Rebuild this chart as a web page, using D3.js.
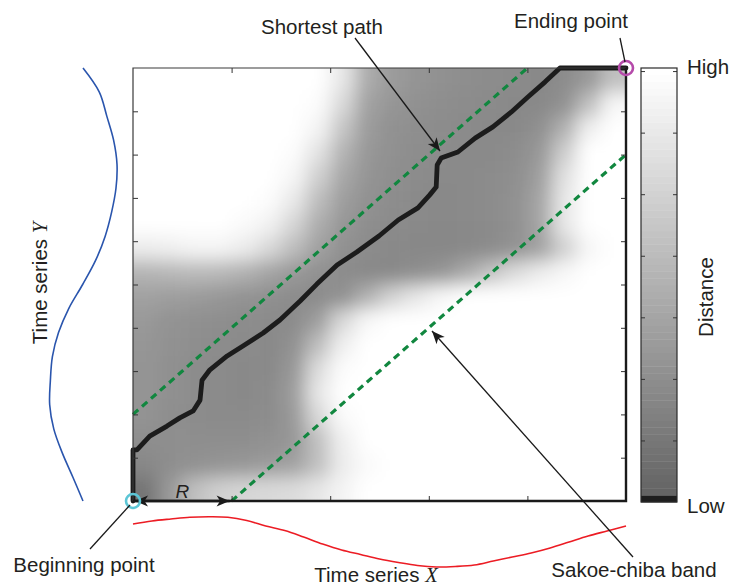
<!DOCTYPE html>
<html>
<head>
<meta charset="utf-8">
<script src="https://cdn.jsdelivr.net/npm/d3@7"></script>
<style>
  html, body { margin: 0; padding: 0; background: #fff; }
  svg { display: block; font-family: 'Liberation Sans', Arial, sans-serif; }
</style>
</head>
<body>
<script>
// ---- data ----

// time series X (red, under the matrix), normalised amplitude, evenly spaced in time
const seriesX = [0.68, 0.8, 0.88, 0.95, 0.97, 0.95, 0.82, 0.6, 0.42, 0.16, -0.12, -0.36, -0.54,
  -0.72, -0.86, -0.98, -1.04, -1.02, -0.96, -0.8, -0.64, -0.48, -0.28, -0.04, 0.2, 0.4, 0.6];

// time series Y (blue, left of the matrix), time runs bottom -> top
const seriesY = [0, 0.3, 0.61, 0.86, 0.98, 0.96, 0.9, 0.72, 0.42, 0.01, -0.37, -0.65, -0.84,
  -0.97, -1.0, -0.9, -0.7, -0.48, 0];

// local distance matrix, 0 = low, 1 = high; rows from top (end of Y) to bottom (start of Y)
const distanceGrid = [
  [1, 1, 1, 1, 1, 1, 1, 1, 0.85, 0.47, 0.36, 0.32, 0.3, 0.28, 0.27, 0.26, 0.25, 0.27, 0.35, 0.6],
  [1, 1, 1, 1, 1, 1, 1, 0.98, 0.76, 0.41, 0.33, 0.3, 0.28, 0.27, 0.26, 0.25, 0.25, 0.3, 0.6, 0.95],
  [1, 1, 1, 1, 1, 1, 1, 0.93, 0.64, 0.37, 0.3, 0.28, 0.27, 0.26, 0.25, 0.25, 0.29, 0.5, 0.9, 1],
  [1, 1, 1, 1, 1, 1, 0.98, 0.82, 0.52, 0.34, 0.29, 0.27, 0.26, 0.25, 0.25, 0.27, 0.34, 0.68, 1, 1],
  [1, 1, 1, 1, 1, 1, 0.94, 0.7, 0.44, 0.32, 0.28, 0.26, 0.25, 0.25, 0.26, 0.28, 0.38, 0.8, 1, 1],
  [1, 1, 1, 1, 1, 0.98, 0.86, 0.58, 0.38, 0.3, 0.27, 0.25, 0.24, 0.25, 0.26, 0.29, 0.42, 0.85, 1, 1],
  [1, 1, 1, 1, 0.97, 0.92, 0.74, 0.48, 0.34, 0.28, 0.26, 0.25, 0.24, 0.25, 0.26, 0.29, 0.42, 0.85, 1, 1],
  [0.88, 0.9, 0.93, 0.93, 0.88, 0.76, 0.58, 0.4, 0.3, 0.27, 0.25, 0.24, 0.24, 0.25, 0.27, 0.31, 0.4, 0.7, 0.95, 1],
  [0.52, 0.54, 0.56, 0.55, 0.5, 0.42, 0.35, 0.3, 0.27, 0.25, 0.25, 0.28, 0.32, 0.45, 0.62, 0.78, 0.88, 0.95, 1, 1],
  [0.4, 0.38, 0.36, 0.34, 0.31, 0.29, 0.27, 0.26, 0.3, 0.5, 0.72, 0.85, 0.95, 1, 1, 1, 1, 1, 1, 1],
  [0.35, 0.31, 0.29, 0.28, 0.27, 0.26, 0.26, 0.38, 0.75, 0.95, 1, 1, 1, 1, 1, 1, 1, 1, 1, 1],
  [0.33, 0.3, 0.28, 0.27, 0.26, 0.25, 0.3, 0.58, 0.9, 1, 1, 1, 1, 1, 1, 1, 1, 1, 1, 1],
  [0.32, 0.29, 0.27, 0.26, 0.25, 0.25, 0.34, 0.78, 0.98, 1, 1, 1, 1, 1, 1, 1, 1, 1, 1, 1],
  [0.32, 0.29, 0.27, 0.26, 0.25, 0.26, 0.37, 0.85, 1, 1, 1, 1, 1, 1, 1, 1, 1, 1, 1, 1],
  [0.31, 0.28, 0.27, 0.26, 0.26, 0.27, 0.35, 0.75, 0.97, 1, 1, 1, 1, 1, 1, 1, 1, 1, 1, 1],
  [0.28, 0.28, 0.28, 0.28, 0.28, 0.3, 0.34, 0.6, 0.9, 1, 1, 1, 1, 1, 1, 1, 1, 1, 1, 1],
  [0.24, 0.28, 0.3, 0.32, 0.34, 0.36, 0.4, 0.6, 0.88, 0.97, 1, 1, 1, 1, 1, 1, 1, 1, 1, 1],
  [0.12, 0.35, 0.6, 0.7, 0.74, 0.76, 0.78, 0.84, 0.93, 1, 1, 1, 1, 1, 1, 1, 1, 1, 1, 1]
];

// warping path in percent of X index / Y index
const warpPath = [[0, 0], [0, 11.8], [0.8, 11.8], [3.4, 15.0], [6.9, 17.3], [9.5, 19.2], [12.2, 20.8],
  [13.6, 23.3], [14.0, 27.9], [15.6, 30.3], [19.1, 33.5], [22.3, 35.8], [26.4, 38.8], [29.8, 41.8],
  [33.9, 46.2], [37.3, 50.1], [41.4, 54.5], [45.4, 57.5], [49.9, 61.2], [53.8, 64.9], [57.8, 67.7],
  [60.2, 70.7], [61.5, 72.5], [61.7, 77.6], [62.5, 79.2], [65.9, 80.6], [69.4, 83.8], [73.0, 86.4],
  [76.7, 89.8], [80.1, 93.3], [83.6, 96.8], [86.6, 100], [100, 100]];

// Sakoe-Chiba window radius, percent of series length
const bandRadius = 20;

const xTicks = [20, 40, 60, 80];
const yTicks = [10, 20, 30, 40, 50, 60, 70, 80, 90];
const colorbarTicks = [1, 2, 3, 4, 5, 6, 7];
const colorbarSteps = 64;

// ---- layout ----
const W = 730, H = 586;
const plot = { left: 133, top: 68, right: 626, bottom: 501 };
const cbar = { left: 641, right: 677, top: 68, bottom: 502 };
const textColor = '#231f20';
const fontSize = 20.5;

const svg = d3.select('body').append('svg').attr('width', W).attr('height', H);
const defs = svg.append('defs');

defs.append('clipPath').attr('id', 'plotClip')
  .append('rect')
  .attr('x', plot.left).attr('y', plot.top)
  .attr('width', plot.right - plot.left).attr('height', plot.bottom - plot.top);

defs.append('filter').attr('id', 'soften')
  .attr('x', '-20%').attr('y', '-20%').attr('width', '140%').attr('height', '140%')
  .append('feGaussianBlur').attr('stdDeviation', 9);

defs.append('marker')
  .attr('id', 'head')
  .attr('viewBox', '-14 -7 16 14')
  .attr('refX', 0).attr('refY', 0)
  .attr('markerWidth', 16).attr('markerHeight', 14)
  .attr('markerUnits', 'userSpaceOnUse')
  .attr('orient', 'auto-start-reverse')
  .append('path')
  .attr('d', 'M0,0L-13,-5.5L-9.5,0L-13,5.5Z')
  .attr('fill', '#1a1a1a');

// scales
const x = d3.scaleLinear().domain([0, 100]).range([plot.left, plot.right]);
const y = d3.scaleLinear().domain([0, 100]).range([plot.bottom, plot.top]);
const gray = d3.scaleLinear().domain([0, 1]).range(['#626262', '#ffffff']);

// ---- distance matrix ----
const nRows = distanceGrid.length, nCols = distanceGrid[0].length;
const colX = d3.scaleLinear().domain([0, nCols]).range([plot.left, plot.right]);
const rowY = d3.scaleLinear().domain([0, nRows]).range([plot.top, plot.bottom]);
const pad = 40; // edge cells are stretched outward so the blur does not fade at the frame

const cells = [];
distanceGrid.forEach((row, j) => row.forEach((d, i) => cells.push({ i, j, d })));

svg.append('g').attr('clip-path', 'url(#plotClip)')
  .append('g').attr('filter', 'url(#soften)')
  .selectAll('rect')
  .data(cells)
  .join('rect')
  .attr('x', c => colX(c.i) - (c.i === 0 ? pad : 0))
  .attr('y', c => rowY(c.j) - (c.j === 0 ? pad : 0))
  .attr('width', c => colX(c.i + 1) - colX(c.i) + (c.i === 0 || c.i === nCols - 1 ? pad : 0) + 0.5)
  .attr('height', c => rowY(c.j + 1) - rowY(c.j) + (c.j === 0 || c.j === nRows - 1 ? pad : 0) + 0.5)
  .attr('fill', c => gray(c.d));

// ---- Sakoe-Chiba band ----
const bandLines = [
  [[0, bandRadius], [100 - bandRadius, 100]],
  [[bandRadius, 0], [100, 100 - bandRadius]]
];
const line = d3.line().x(p => x(p[0])).y(p => y(p[1]));
svg.append('g').selectAll('path')
  .data(bandLines)
  .join('path')
  .attr('d', line)
  .attr('fill', 'none')
  .attr('stroke', '#11873f')
  .attr('stroke-width', 3.2)
  .attr('stroke-dasharray', '7,5');

// ---- shortest path ----
svg.append('path')
  .datum(warpPath)
  .attr('d', line)
  .attr('fill', 'none')
  .attr('stroke', '#1c1c1c')
  .attr('stroke-width', 4.8)
  .attr('stroke-linejoin', 'round')
  .attr('stroke-linecap', 'round');

// ---- frame and ticks ----
const axisStyle = g => {
  g.select('.domain').remove();
  g.selectAll('.tick line').attr('stroke', '#333').attr('stroke-width', 1);
  g.selectAll('.tick text').remove();
};
svg.append('g').attr('transform', `translate(0,${plot.bottom})`)
  .call(d3.axisBottom(x).tickValues(xTicks).tickSize(-5)).call(axisStyle);
svg.append('g').attr('transform', `translate(0,${plot.top})`)
  .call(d3.axisTop(x).tickValues(xTicks).tickSize(-5)).call(axisStyle);
svg.append('g').attr('transform', `translate(${plot.left},0)`)
  .call(d3.axisLeft(y).tickValues(yTicks).tickSize(-5)).call(axisStyle);
svg.append('g').attr('transform', `translate(${plot.right},0)`)
  .call(d3.axisRight(y).tickValues(yTicks).tickSize(-5)).call(axisStyle);

const frame = svg.append('g').attr('fill', 'none');
frame.append('path')
  .attr('d', `M${plot.left},${plot.bottom}V${plot.top}H${plot.right}`)
  .attr('stroke', '#3a3a3a').attr('stroke-width', 1.2);
frame.append('path')
  .attr('d', `M${plot.left},${plot.bottom}H${plot.right}V${plot.top}`)
  .attr('stroke', '#1a1a1a').attr('stroke-width', 2.4);

// ---- R arrow ----
svg.append('line')
  .attr('x1', x(0) + 2).attr('y1', plot.bottom)
  .attr('x2', x(bandRadius) - 2).attr('y2', plot.bottom)
  .attr('stroke', '#1a1a1a').attr('stroke-width', 2.4)
  .attr('marker-start', 'url(#head)').attr('marker-end', 'url(#head)');
svg.append('text')
  .attr('x', (x(0) + x(bandRadius)) / 2).attr('y', plot.bottom - 3)
  .attr('text-anchor', 'middle')
  .attr('font-size', 19).attr('font-style', 'italic')
  .attr('fill', textColor)
  .text('R');

// ---- begin / end markers ----
svg.append('circle').attr('cx', x(0)).attr('cy', y(0)).attr('r', 7)
  .attr('fill', 'none').attr('stroke', '#5cc6d6').attr('stroke-width', 2.6);
svg.append('circle').attr('cx', x(100)).attr('cy', y(100)).attr('r', 7)
  .attr('fill', 'none').attr('stroke', '#b54aaa').attr('stroke-width', 2.6);

// ---- time series ----
const xIdx = d3.scaleLinear().domain([0, seriesX.length - 1]).range([plot.left, plot.right]);
const xVal = d3.scaleLinear().domain([-1, 1]).range([566, 516]);
svg.append('path')
  .datum(seriesX)
  .attr('d', d3.line().x((d, i) => xIdx(i)).y(d => xVal(d)).curve(d3.curveCatmullRom))
  .attr('fill', 'none').attr('stroke', '#ec1c24').attr('stroke-width', 1.6);

const yIdx = d3.scaleLinear().domain([0, seriesY.length - 1]).range([plot.bottom, plot.top]);
const yVal = d3.scaleLinear().domain([-1, 1]).range([117, 49]);
svg.append('path')
  .datum(seriesY)
  .attr('d', d3.line().x(d => yVal(d)).y((d, i) => yIdx(i)).curve(d3.curveCatmullRom))
  .attr('fill', 'none').attr('stroke', '#2a55ad').attr('stroke-width', 1.6);

// ---- colour bar ----
const cbY = d3.scaleLinear().domain([0, colorbarSteps]).range([cbar.bottom, cbar.top]);
svg.append('g').selectAll('rect')
  .data(d3.range(colorbarSteps))
  .join('rect')
  .attr('x', cbar.left).attr('width', cbar.right - cbar.left)
  .attr('y', k => cbY(k + 1)).attr('height', k => cbY(k) - cbY(k + 1) + 0.4)
  .attr('fill', k => k === 0 ? '#1e1e1e' : gray(k / (colorbarSteps - 1)));

const cbTickY = d3.scaleLinear().domain([0, 7.05]).range([cbar.bottom, cbar.top]);
svg.append('g').attr('transform', `translate(${cbar.left},0)`)
  .call(d3.axisLeft(cbTickY).tickValues(colorbarTicks).tickSize(-4)).call(axisStyle);
svg.append('g').attr('transform', `translate(${cbar.right},0)`)
  .call(d3.axisRight(cbTickY).tickValues(colorbarTicks).tickSize(-4)).call(axisStyle);
svg.append('rect')
  .attr('x', cbar.left).attr('y', cbar.top)
  .attr('width', cbar.right - cbar.left).attr('height', cbar.bottom - cbar.top)
  .attr('fill', 'none').attr('stroke', '#2a2a2a').attr('stroke-width', 1.2);

// ---- labels ----
const label = (txt, px, py, anchor = 'middle') => svg.append('text')
  .attr('x', px).attr('y', py)
  .attr('text-anchor', anchor)
  .attr('font-size', fontSize)
  .attr('fill', textColor)
  .text(txt);

label('High', 687, 74, 'start');
label('Low', 687, 513, 'start');
svg.append('text')
  .attr('transform', 'translate(713,297) rotate(-90)')
  .attr('text-anchor', 'middle').attr('font-size', fontSize).attr('fill', textColor)
  .text('Distance');

const seriesLabel = (sel, name) => {
  sel.attr('text-anchor', 'middle').attr('font-size', fontSize).attr('fill', textColor);
  sel.append('tspan').text('Time series ');
  sel.append('tspan')
    .attr('font-family', "'Liberation Serif', 'Times New Roman', serif")
    .attr('font-style', 'italic')
    .text(name);
};
svg.append('text').attr('x', 376).attr('y', 582).call(seriesLabel, 'X');
svg.append('text').attr('transform', 'translate(47,283) rotate(-90)').call(seriesLabel, 'Y');

label('Shortest path', 322, 34);
label('Ending point', 571, 28);
label('Beginning point', 84, 572);
label('Sakoe-chiba band', 634, 577);

// ---- annotation leaders ----
const leader = (x1, y1, x2, y2, arrow) => {
  const l = svg.append('line')
    .attr('x1', x1).attr('y1', y1).attr('x2', x2).attr('y2', y2)
    .attr('stroke', '#1a1a1a').attr('stroke-width', 1.3);
  if (arrow) l.attr('marker-end', 'url(#head)');
};
leader(355, 38, 440, 151, true);
leader(620, 38, 625, 62, false);
leader(130, 505, 90, 549, false);
leader(633, 557, 432, 331, true);
</script>
</body>
</html>
